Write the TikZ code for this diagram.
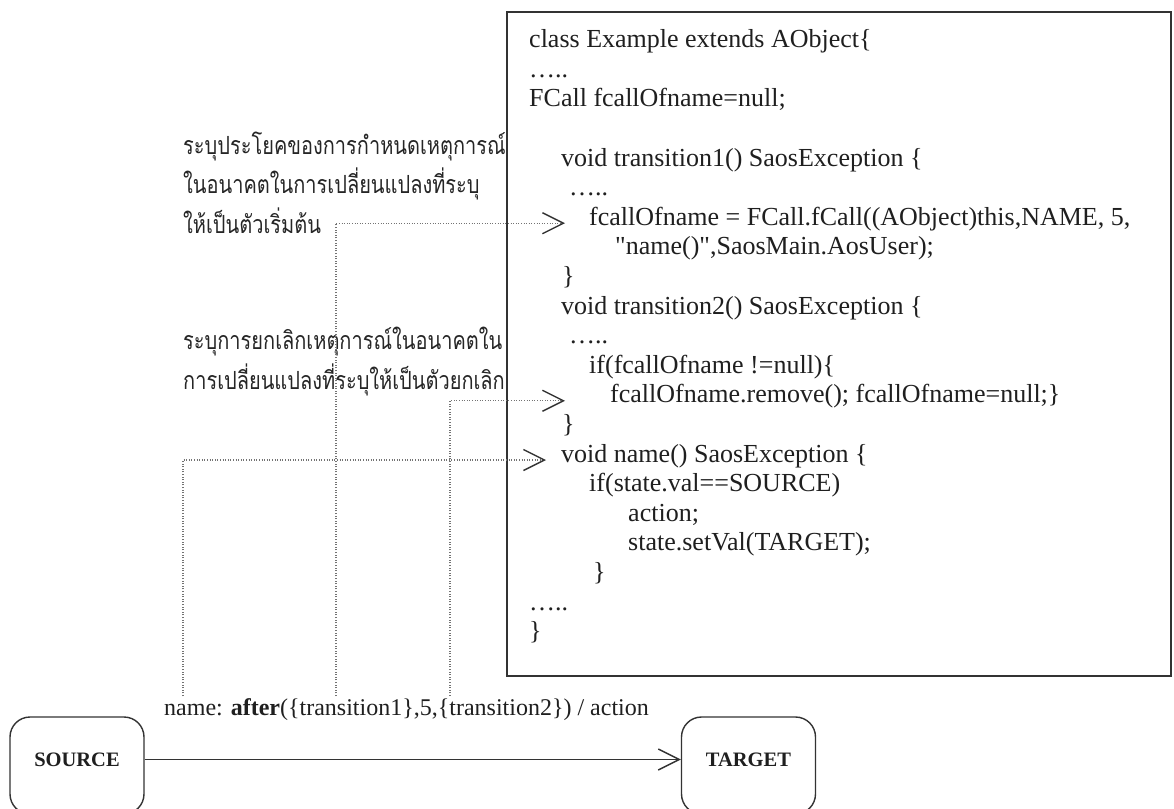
\documentclass[tikz,border=0pt]{standalone}
\usepackage{fontspec}
\setmainfont{Liberation Serif}
\newfontfamily\thaifont[Script=Thai]{Loma}
\usetikzlibrary{arrows.meta}

\newcommand{\tallthai}[1]{\scalebox{1}[1.25]{#1}}

\tikzset{
  codeline/.style={anchor=base west, inner sep=0pt, text height=18pt, text depth=6pt,
    font=\fontsize{26}{30}\selectfont, text=black!88},
  labeltext/.style={anchor=base west, inner sep=0pt, font=\fontsize{24}{28}\selectfont, text=black!88},
  thainote/.style={anchor=west, inner sep=0pt, font=\thaifont\fontsize{20}{24}\selectfont, text=black!85},
  codebox/.style={draw=black!80, line width=1.5pt, fill=white},
  vtip/.style={-{Straight Barb[length=21pt,width=21pt,line width=1.4pt,color=black!80]}},
  trace/.style={draw=black!55, line width=1.1pt, dash pattern=on 1pt off 1.6pt, vtip},
  statebox/.style={draw=black!80, line width=1.4pt, rounded corners=20pt,
    minimum width=134pt, minimum height=97pt, inner sep=0pt},
  statename/.style={inner sep=0pt, font=\bfseries\fontsize{20.5}{24}\selectfont, text=black!88},
  transition/.style={draw=black!80, line width=1.4pt, vtip}
}

\begin{document}
\begin{tikzpicture}[x=1pt,y=-1pt]
\useasboundingbox (0,0) rectangle (1174,808);
\fill[white] (0,0) rectangle (1174,808);

% notes on the left
\node[thainote] (n1) at (183,147) {\tallthai{ระบุประโยคของการกำหนดเหตุการณ์}};
\node[thainote] (n2) at (183,184) {\tallthai{ในอนาคตในการเปลี่ยนแปลงที่ระบุ}};
\node[thainote] (n3) at (183,221) {\tallthai{ให้เป็นตัวเริ่มต้น}};
\node[thainote] (n4) at (183,342) {\tallthai{ระบุการยกเลิกเหตุการณ์ในอนาคตใน}};
\node[thainote] (n5) at (183,380) {\tallthai{การเปลี่ยนแปลงที่ระบุให้เป็นตัวยกเลิก}};

% generated class
\draw[codebox] (507,12) rectangle (1171,676);
\node[codeline] (c0)  at (529,47.6)  {class Example extends AObject\{};
\node[codeline] (c1)  at (529,77.2)  {…..};
\node[codeline] (c2)  at (529,106.8) {FCall fcallOfname=null;};
\node[codeline] (c4)  at (561,166)   {void transition1() SaosException \{};
\node[codeline] (c5)  at (569,195.6) {…..};
\node[codeline] (c6)  at (589,225.2) {fcallOfname = FCall.fCall((AObject)this,NAME, 5,};
\node[codeline] (c7)  at (615,254.8) {\textquotedbl name()\textquotedbl,SaosMain.AosUser);};
\node[codeline] (c8)  at (562,284.4) {\}};
\node[codeline] (c9)  at (561,314)   {void transition2() SaosException \{};
\node[codeline] (c10) at (569,343.6) {…..};
\node[codeline] (c11) at (589,373.2) {if(fcallOfname !=null)\{};
\node[codeline] (c12) at (610,402.8) {fcallOfname.remove(); fcallOfname=null;\}};
\node[codeline] (c13) at (562,432.4) {\}};
\node[codeline] (c14) at (561,462)   {void name() SaosException \{};
\node[codeline] (c15) at (589,491.6) {if(state.val==SOURCE)};
\node[codeline] (c16) at (628,521.2) {action;};
\node[codeline] (c17) at (628,550.8) {state.setVal(TARGET);};
\node[codeline] (c18) at (593,580.4) {\}};
\node[codeline] (c19) at (529,610)   {…..};
\node[codeline] (c20) at (529,639.6) {\}};

% state machine (boxes run past the lower edge)
\node[statebox, label={[statename, yshift=6pt]center:SOURCE}] (src) at (77,765.5) {};
\node[statebox, label={[statename, yshift=6pt]center:TARGET}] (tgt) at (748.5,765.5) {};
\draw[transition] ([yshift=6pt]src.east) -- ([yshift=6pt]tgt.west);
\node[labeltext] (lbl) at (164,715) {name: \textbf{after}(\{transition1\},5,\{transition2\}) / action};

% trace lines from the label into the code
\coordinate (pName) at (183,696);
\coordinate (pT1)   at (336,696);
\coordinate (pT2)   at (450,696);
\draw[trace] (pT1) |- ([xshift=-24pt,yshift=-4pt]c6.west);
\draw[trace] (pT2) |- ([xshift=-45pt,yshift=-4pt]c12.west);
\draw[trace] (pName) |- ([xshift=-15pt,yshift=-4pt]c14.west);
\end{tikzpicture}
\end{document}
